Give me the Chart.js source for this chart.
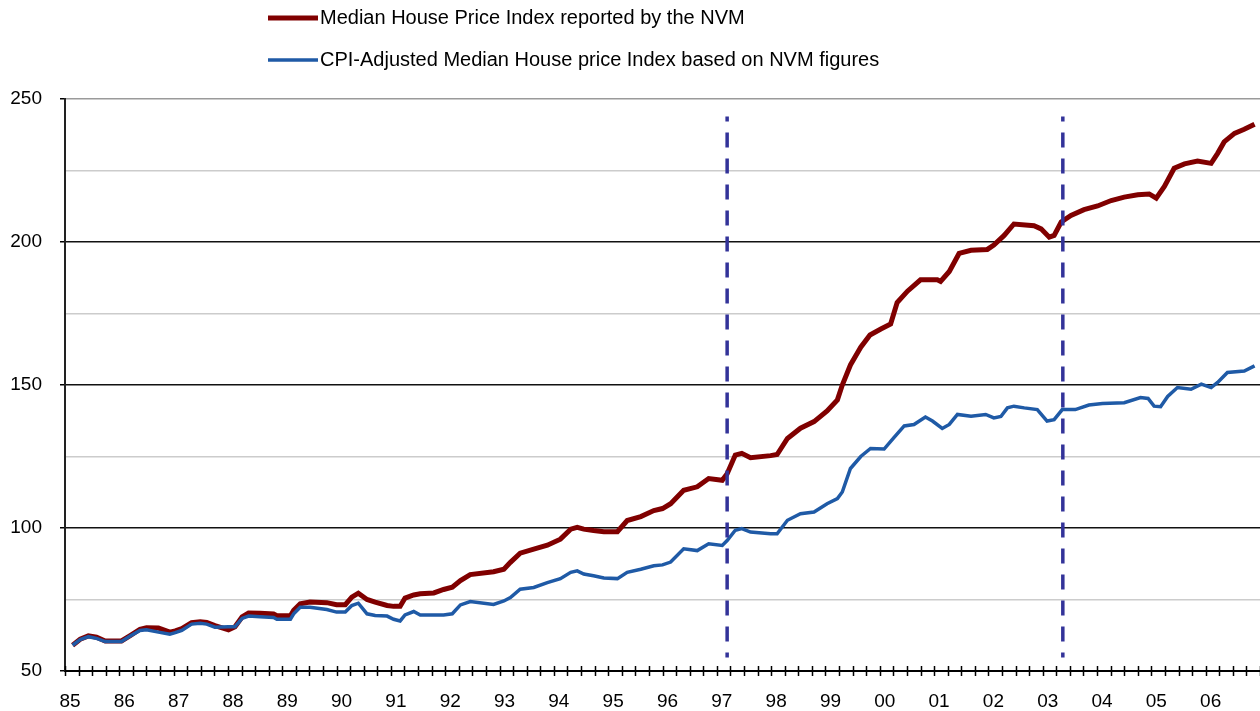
<!DOCTYPE html>
<html>
<head>
<meta charset="utf-8">
<title>NVM median house price index</title>
<script src="https://cdn.jsdelivr.net/npm/chart.js@4.4.1/dist/chart.umd.min.js"></script>
<style>
  html, body { margin: 0; padding: 0; background: #fff; }
  #wrap { width: 1260px; height: 711px; }
</style>
</head>
<body>
<div id="wrap"><canvas id="chart" width="1260" height="711"></canvas></div>
<script>
// Serie-waarden (x = jaar als decimaal getal)
const yearLabels = ['85', '86', '87', '88', '89', '90', '91', '92', '93', '94', '95',
  '96', '97', '98', '99', '00', '01', '02', '03', '04', '05', '06'];

const nvmYears = [
  1985.14, 1985.28, 1985.43, 1985.58, 1985.74, 1986.04, 1986.2, 1986.38, 1986.5, 1986.72,
  1986.93, 1987.03, 1987.15, 1987.33, 1987.49, 1987.61, 1987.76, 1988.01, 1988.13, 1988.26,
  1988.38, 1988.59, 1988.84, 1988.9, 1989.15, 1989.21, 1989.33, 1989.51, 1989.82, 1990.0,
  1990.16, 1990.28, 1990.4, 1990.56, 1990.71, 1990.93, 1991.05, 1991.17, 1991.26, 1991.42,
  1991.54, 1991.79, 1991.97, 1992.13, 1992.28, 1992.46, 1992.89, 1993.08, 1993.2, 1993.38,
  1993.63, 1993.88, 1994.12, 1994.31, 1994.43, 1994.55, 1994.73, 1994.92, 1995.17, 1995.35,
  1995.6, 1995.84, 1996.0, 1996.15, 1996.39, 1996.64, 1996.85, 1997.1, 1997.19, 1997.34,
  1997.46, 1997.62, 1997.99, 1998.11, 1998.3, 1998.54, 1998.79, 1999.03, 1999.22, 1999.31,
  1999.46, 1999.65, 1999.82, 2000.02, 2000.2, 2000.32, 2000.51, 2000.75, 2001.06, 2001.12,
  2001.28, 2001.46, 2001.68, 2001.98, 2002.1, 2002.29, 2002.47, 2002.84, 2002.97, 2003.12,
  2003.21, 2003.34, 2003.52, 2003.76, 2004.01, 2004.26, 2004.5, 2004.75, 2004.96, 2005.09,
  2005.24, 2005.42, 2005.61, 2005.85, 2006.1, 2006.22, 2006.34, 2006.53, 2006.71, 2006.9
];
const nvmIndex = [
  59, 61.1, 62.3, 61.8, 60.5, 60.5, 62.4, 64.6, 65.1, 65.0,
  63.6, 64.0, 64.8, 66.9, 67.2, 67.0, 65.9, 64.4, 65.5, 68.9,
  70.3, 70.2, 69.9, 69.3, 69.3, 71.2, 73.5, 74.1, 73.9, 73.2,
  73.2, 75.8, 77.2, 75.0, 74.1, 72.9, 72.6, 72.6, 75.5, 76.6,
  77.0, 77.3, 78.5, 79.3, 81.6, 83.7, 84.7, 85.6, 88.0, 91.2,
  92.6, 94.0, 96.1, 99.6, 100.2, 99.6, 99.1, 98.7, 98.7, 102.6,
  104.0, 106.1, 106.8, 108.5, 113.2, 114.4, 117.3, 116.7, 119.0, 125.5,
  126.1, 124.6, 125.3, 125.7, 131.3, 134.9, 137.2, 140.9, 144.8, 150.0,
  157.0, 163.2, 167.5, 169.6, 171.3, 178.8, 182.8, 186.8, 186.8, 186.2,
  189.7, 196.0, 197.1, 197.4, 198.9, 202.3, 206.3, 205.7, 204.6, 201.7,
  202.3, 207.0, 209.3, 211.3, 212.6, 214.5, 215.7, 216.5, 216.8, 215.3,
  219.4, 225.8, 227.3, 228.3, 227.5, 231.0, 235.0, 238.0, 239.4, 241.2
];

const cpiYears = [
  1985.14, 1985.28, 1985.43, 1985.58, 1985.74, 1986.04, 1986.2, 1986.38, 1986.5, 1986.72,
  1986.93, 1987.03, 1987.15, 1987.33, 1987.49, 1987.61, 1987.76, 1988.01, 1988.13, 1988.26,
  1988.38, 1988.59, 1988.84, 1988.9, 1989.15, 1989.21, 1989.33, 1989.51, 1989.82, 1990.0,
  1990.16, 1990.28, 1990.4, 1990.56, 1990.71, 1990.93, 1991.05, 1991.17, 1991.26, 1991.42,
  1991.54, 1991.97, 1992.13, 1992.28, 1992.46, 1992.89, 1993.08, 1993.2, 1993.38, 1993.63,
  1993.88, 1994.12, 1994.31, 1994.43, 1994.55, 1994.73, 1994.92, 1995.17, 1995.35, 1995.6,
  1995.84, 1996.0, 1996.15, 1996.39, 1996.64, 1996.85, 1997.1, 1997.19, 1997.34, 1997.46,
  1997.62, 1997.99, 1998.11, 1998.3, 1998.54, 1998.79, 1999.03, 1999.22, 1999.31, 1999.46,
  1999.65, 1999.83, 2000.08, 2000.26, 2000.45, 2000.63, 2000.84, 2000.97, 2001.15, 2001.28,
  2001.43, 2001.68, 2001.95, 2002.1, 2002.23, 2002.35, 2002.47, 2002.66, 2002.9, 2003.08,
  2003.21, 2003.36, 2003.6, 2003.85, 2004.1, 2004.5, 2004.8, 2004.94, 2005.05, 2005.17,
  2005.3, 2005.48, 2005.73, 2005.92, 2006.1, 2006.22, 2006.4, 2006.71, 2006.9
];
const cpiIndex = [
  59, 61.0, 62.0, 61.4, 60.3, 60.3, 62.2, 64.2, 64.4, 63.6,
  62.9, 63.4, 64.2, 66.4, 66.7, 66.4, 65.3, 65.5, 65.5, 68.4,
  69.2, 69.0, 68.7, 68.1, 68.1, 70.0, 72.3, 72.3, 71.5, 70.6,
  70.6, 72.9, 73.7, 70.0, 69.4, 69.2, 68.1, 67.5, 69.6, 70.8,
  69.6, 69.6, 70.0, 73.1, 74.3, 73.3, 74.5, 75.7, 78.6, 79.2,
  80.9, 82.3, 84.5, 85.0, 83.9, 83.3, 82.5, 82.3, 84.5, 85.6,
  86.8, 87.1, 88.1, 92.7, 92.1, 94.5, 93.9, 95.6, 99.2, 99.8,
  98.6, 98.0, 98.0, 102.7, 105.0, 105.6, 108.5, 110.3, 112.6, 120.8,
  125.0, 127.8, 127.6, 131.6, 135.7, 136.2, 138.8, 137.4, 134.8, 136.2,
  139.7, 139.1, 139.7, 138.5, 139.0, 142.0, 142.6, 142.0, 141.4, 137.4,
  137.9, 141.4, 141.4, 143.0, 143.5, 143.8, 145.6, 145.3, 142.6, 142.4,
  146.0, 149.1, 148.5, 150.3, 149.1, 150.9, 154.4, 154.9, 156.7
];

// verticale stippellijnen (1997 en 2003)
const markerYears = [1997.19, 2003.37];
const markerRange = [243.9, 54.7];

const yTicks = { min: 50, max: 250, step: 25 };
const quarterTicks = [];
for (let q = 1985 * 4; q <= 2007 * 4; q++) quarterTicks.push(q / 4);

const toPoints = (xs, ys) => xs.map((x, i) => ({ x, y: ys[i] }));

Chart.defaults.font.family = '"Liberation Sans", Arial, sans-serif';
Chart.defaults.color = '#000';

// Legenda bovenaan: twee rijen, lijnstukje + tekst
const stackedLegend = {
  id: 'stackedLegend',
  afterDraw(chart) {
    const { ctx } = chart;
    const rows = chart.data.datasets.filter(d => d.legendRow !== undefined);
    ctx.save();
    ctx.font = '20px "Liberation Sans", Arial, sans-serif';
    ctx.textBaseline = 'middle';
    ctx.fillStyle = '#000';
    rows.forEach(d => {
      const y = 18 + d.legendRow * 42;
      ctx.strokeStyle = d.borderColor;
      ctx.lineWidth = d.borderWidth;
      ctx.beginPath();
      ctx.moveTo(268, y);
      ctx.lineTo(318, y);
      ctx.stroke();
      ctx.fillText(d.label, 320, y);
    });
    ctx.restore();
  },
};

// Kwartaalstreepjes die door de x-as heen steken
const crossTicks = {
  id: 'crossTicks',
  afterDatasetsDraw(chart) {
    const { ctx } = chart;
    const x = chart.scales.x;
    const bottom = chart.chartArea.bottom;
    ctx.save();
    ctx.strokeStyle = '#000';
    ctx.lineWidth = 1.5;
    ctx.beginPath();
    x.ticks.forEach(t => {
      const px = Math.round(x.getPixelForValue(t.value)) + 0.5;
      ctx.moveTo(px, bottom - 5);
      ctx.lineTo(px, bottom + 5);
    });
    ctx.stroke();
    ctx.restore();
  },
};

const markerSets = markerYears.map(yr => ({
  data: [{ x: yr, y: markerRange[0] }, { x: yr, y: markerRange[1] }],
  borderColor: '#333399',
  borderWidth: 3.5,
  borderDash: [15, 11],
  borderDashOffset: 10,
  pointRadius: 0,
  order: -1,
}));

new Chart(document.getElementById('chart'), {
  type: 'line',
  data: {
    datasets: [
      {
        label: 'Median House Price Index reported by the NVM',
        legendRow: 0,
        data: toPoints(nvmYears, nvmIndex),
        borderColor: '#800000',
        borderWidth: 5,
        pointRadius: 0,
        tension: 0,
        order: 1,
      },
      {
        label: 'CPI-Adjusted Median House price Index based on NVM figures',
        legendRow: 1,
        data: toPoints(cpiYears, cpiIndex),
        borderColor: '#1f5aa6',
        borderWidth: 3.5,
        pointRadius: 0,
        tension: 0,
        order: 0,
      },
      ...markerSets,
    ],
  },
  options: {
    responsive: false,
    animation: false,
    events: [],
    layout: { padding: { top: 99, right: 0, left: 0, bottom: 0 } },
    plugins: { legend: { display: false }, tooltip: { enabled: false } },
    scales: {
      x: {
        type: 'linear',
        min: 1985,
        max: 2007,
        afterBuildTicks: s => { s.ticks = quarterTicks.map(v => ({ value: v })); },
        afterFit: s => { s.height = 40; s.paddingLeft = 0; s.paddingRight = 0; },
        grid: { display: false, drawTicks: false },
        border: { display: true, color: '#000', width: 2 },
        ticks: {
          autoSkip: false,
          maxRotation: 0,
          labelOffset: 5,
          padding: 19,
          font: { size: 19 },
          color: '#000',
          callback: v => {
            const r = Math.round(v);
            return Math.abs(v - r) < 1e-6 ? (yearLabels[r - 1985] || '') : '';
          },
        },
      },
      y: {
        min: yTicks.min,
        max: yTicks.max,
        afterFit: s => { s.width = 65; },
        border: { display: true, color: '#222', width: 2 },
        grid: {
          drawTicks: true,
          tickLength: 5,
          lineWidth: 1.5,
          color: c => c.tick.value === 250 ? '#9a9a9a'
            : c.tick.value % 50 === 0 ? '#111' : '#cccccc',
          tickColor: c => c.tick.value % 50 === 0 ? '#000' : 'rgba(0,0,0,0)',
        },
        ticks: {
          stepSize: yTicks.step,
          padding: 18,
          font: { size: 19 },
          color: '#000',
          callback: v => v % 50 === 0 ? v : '',
        },
      },
    },
  },
  plugins: [stackedLegend, crossTicks],
});
</script>
</body>
</html>
